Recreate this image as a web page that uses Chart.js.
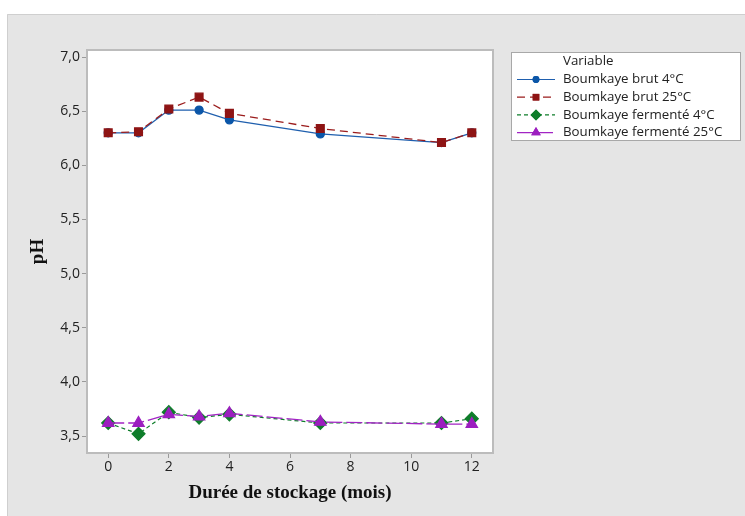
<!DOCTYPE html>
<html>
<head>
<meta charset="utf-8">
<script src="https://cdn.jsdelivr.net/npm/chart.js@4"></script>
<style>
  html, body { margin: 0; padding: 0; background: #fff; }
  #wrap { position: absolute; left: 7px; top: 14px; }
</style>
</head>
<body>
<div id="wrap"><canvas id="myChart" width="738" height="502"></canvas></div>
<script>
// storage time in months
const months = [0, 1, 2, 3, 4, 7, 11, 12];
const brut4 = [6.30, 6.30, 6.51, 6.51, 6.42, 6.29, 6.21, 6.30];
const brut25 = [6.30, 6.31, 6.52, 6.63, 6.48, 6.34, 6.21, 6.30];
const ferm4 = [3.62, 3.52, 3.72, 3.67, 3.70, 3.62, 3.62, 3.66];
const ferm25 = [3.62, 3.62, 3.70, 3.68, 3.71, 3.63, 3.61, 3.61];
const seriesNames = ["Boumkaye brut 4°C", "Boumkaye brut 25°C", "Boumkaye fermenté 4°C", "Boumkaye fermenté 25°C"];
const xTicks = [0, 2, 4, 6, 8, 10, 12];
const yTicks = [3.5, 4.0, 4.5, 5.0, 5.5, 6.0, 6.5, 7.0];

const pts = (ys) => months.map((m, i) => ({ x: m, y: ys[i] }));

const ctx = document.getElementById("myChart").getContext("2d");

const tickFont = { family: "'Open Sans', sans-serif", size: 14 };
const titleFont = { family: "'Liberation Serif', serif", size: 19, weight: "bold" };

// grey background, white plot area and frame
const background = {
  id: "background",
  beforeDraw(chart) {
    const c = chart.ctx, a = chart.chartArea;
    c.save();
    c.fillStyle = "#e5e5e5";
    c.fillRect(0, 0, chart.width, chart.height);
    c.strokeStyle = "#cfcfcf";
    c.lineWidth = 1;
    c.beginPath();
    c.moveTo(0.5, chart.height);
    c.lineTo(0.5, 0.5);
    c.lineTo(chart.width, 0.5);
    c.stroke();
    c.fillStyle = "#ffffff";
    c.fillRect(a.left, a.top, a.right - a.left, a.bottom - a.top);
    c.restore();
  },
  afterDatasetsDraw(chart) {
    const c = chart.ctx, a = chart.chartArea;
    c.save();
    c.strokeStyle = "#bcbcbc";
    c.lineWidth = 2;
    c.strokeRect(a.left, a.top, a.right - a.left, a.bottom - a.top);
    c.restore();
  }
};

// boxed legend like the original
const boxLegend = {
  id: "boxLegend",
  afterDraw(chart) {
    const c = chart.ctx;
    const bx = 504, by = 38, bw = 229, bh = 88;
    c.save();
    c.fillStyle = "#fff";
    c.fillRect(bx, by, bw, bh);
    c.strokeStyle = "#a8a8a8";
    c.lineWidth = 1;
    c.strokeRect(bx + 0.5, by + 0.5, bw, bh);
    c.font = "13.3px 'Open Sans', sans-serif";
    c.fillStyle = "#222";
    c.textBaseline = "middle";
    c.fillText("Variable", 556, 47);
    chart.data.datasets.forEach((ds, i) => {
      const y = 65.5 + i * 17.7;
      c.strokeStyle = ds.borderColor;
      c.lineWidth = 1.2;
      c.setLineDash(ds.borderDash || []);
      c.beginPath();
      c.moveTo(510, y);
      c.lineTo(548, y);
      c.stroke();
      c.setLineDash([]);
      c.fillStyle = ds.pointBackgroundColor;
      const r = ds.pointRadius * 0.85;
      Chart.helpers.drawPoint(c, { pointStyle: ds.pointStyle, radius: r, borderWidth: 0 }, 529, y);
      c.fill();
      c.fillStyle = "#222";
      c.fillText(ds.label, 556, y);
    });
    c.restore();
  }
};

const config = {
  type: "line",
  data: {
    datasets: [
      {
        label: seriesNames[0],
        data: pts(brut4),
        borderColor: "#1f5fae",
        backgroundColor: "#1f5fae",
        pointBackgroundColor: "#0b56a8",
        pointBorderColor: "#0b56a8",
        pointStyle: "circle",
        pointRadius: 4,
        borderWidth: 1.3,
        order: 3,
      },
      {
        label: seriesNames[1],
        data: pts(brut25),
        borderColor: "#9b1c1c",
        backgroundColor: "#8e1414",
        pointBackgroundColor: "#8e1414",
        pointBorderColor: "#8e1414",
        pointStyle: "rect",
        pointRadius: 5.5,
        borderWidth: 1.3,
        borderDash: [8, 5],
        order: 2,
      },
      {
        label: seriesNames[2],
        data: pts(ferm4),
        borderColor: "#0e7d2a",
        backgroundColor: "#0e7d2a",
        pointBackgroundColor: "#0e7d2a",
        pointBorderColor: "#0e7d2a",
        pointStyle: "rectRot",
        pointRadius: 6.5,
        borderWidth: 1.2,
        borderDash: [4, 3],
        order: 1,
      },
      {
        label: seriesNames[3],
        data: pts(ferm25),
        borderColor: "#a224c4",
        backgroundColor: "#9c1fbf",
        pointBackgroundColor: "#9c1fbf",
        pointBorderColor: "#9c1fbf",
        pointStyle: "triangle",
        pointRadius: 6.5,
        borderWidth: 1.3,
        borderDash: [16, 4],
        order: 0,
      },
    ],
  },
  options: {
    responsive: false,
    animation: false,
    layout: { padding: { top: 36, right: 252, bottom: 0, left: 0 } },
    plugins: {
      legend: { display: false },
      tooltip: { enabled: false },
    },
    scales: {
      x: {
        type: "linear",
        min: -0.7,
        max: 12.7,
        afterBuildTicks: (s) => { s.ticks = xTicks.map((v) => ({ value: v })); },
        afterFit: (s) => { s.height = 63; },
        grid: { drawOnChartArea: false, tickLength: 5, tickColor: "#9a9a9a" },
        border: { color: "#bcbcbc", width: 2 },
        ticks: { font: tickFont, color: "#222", padding: 1, maxRotation: 0 },
        title: {
          display: true,
          text: "Durée de stockage (mois)",
          font: titleFont,
          color: "#111",
          padding: { top: 12, bottom: 12 },
        },
      },
      y: {
        type: "linear",
        min: 3.343,
        max: 7.065,
        afterBuildTicks: (s) => { s.ticks = yTicks.map((v) => ({ value: v })); },
        afterFit: (s) => { s.width = 80; },
        grid: { drawOnChartArea: false, tickLength: 5, tickColor: "#9a9a9a" },
        border: { color: "#bcbcbc", width: 2 },
        ticks: {
          font: tickFont,
          color: "#222",
          padding: 2,
          callback: (v) => v.toFixed(1).replace(".", ","),
        },
        title: {
          display: true,
          text: "pH",
          font: titleFont,
          color: "#111",
          padding: { top: 20, bottom: 20 },
        },
      },
    },
  },
  plugins: [background, boxLegend],
};

const myChart = new Chart(ctx, config);
</script>
</body>
</html>
